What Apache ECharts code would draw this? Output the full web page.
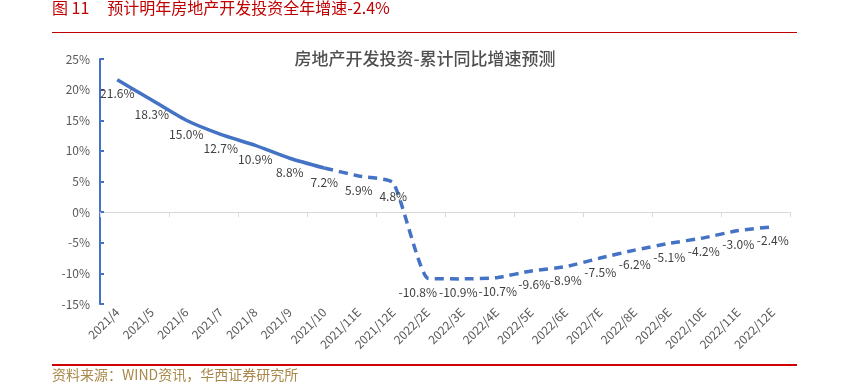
<!DOCTYPE html>
<html><head><meta charset="utf-8">
<script src="https://cdn.jsdelivr.net/npm/echarts@6/dist/echarts.min.js"></script>
<style>html,body{margin:0;padding:0;background:#fff}#c{width:850px;height:386px}</style>
</head><body><div id="c"></div>
<script>
const categories = ['2021/4','2021/5','2021/6','2021/7','2021/8','2021/9','2021/10','2021/11E','2021/12E',
  '2022/2E','2022/3E','2022/4E','2022/5E','2022/6E','2022/7E','2022/8E','2022/9E','2022/10E','2022/11E','2022/12E'];
const values = [21.6,18.3,15.0,12.7,10.9,8.8,7.2,5.9,4.8,-10.8,-10.9,-10.7,-9.6,-8.9,-7.5,-6.2,-5.1,-4.2,-3.0,-2.4];
const solidCount = 7; // actual data through 2021/10
const yTicks = {min:-15, max:25, interval:5};

const solid = values.map((v,i)=> i < solidCount ? v : null);
const dashed = values.map((v,i)=> i >= solidCount-1 ? v : null);
const labelShift = {9:-10, 10:-4, 11:1, 12:3};
const blue = '#4472C4';
const chart = echarts.init(document.getElementById('c'), null, {renderer:'canvas'});
const font = '"Noto Sans CJK SC", "Noto Sans", sans-serif';
chart.setOption({
  animation:false,
  textStyle:{fontFamily:font},
  title:{text:'房地产开发投资-累计同比增速预测', left:'center', top:45,
    textStyle:{fontSize:17, fontWeight:500, color:'#505050', fontFamily:font}},
  grid:{left:100, right:60, top:59, bottom:82, containLabel:false},
  xAxis:[{type:'category', data:categories, position:'bottom', boundaryGap:true,
      axisLine:{show:false, onZero:false}, axisTick:{show:false},
      axisLabel:{rotate:45, fontSize:12, color:'#595959', margin:6, interval:0}},
    {type:'category', data:categories, position:'top', boundaryGap:true,
      axisLine:{show:true, onZero:true, lineStyle:{color:'#D9D9D9', width:1}},
      axisTick:{show:true, inside:true, length:5, lineStyle:{color:'#D9D9D9'}},
      axisLabel:{show:false}}],
  yAxis:{type:'value', min:yTicks.min, max:yTicks.max, interval:yTicks.interval,
    axisLine:{show:true, lineStyle:{color:blue, width:2}},
    axisTick:{show:true, inside:true, length:4, lineStyle:{color:blue, width:2}},
    splitLine:{show:false},
    axisLabel:{formatter:'{value}%', fontSize:12, color:'#595959', margin:10}},
  series:[
    {type:'line', data:solid, smooth:0.25, symbol:'none', lineStyle:{color:blue, width:3.5}, z:3},
    {type:'line', data:dashed, smooth:0.15, symbol:'none', lineStyle:{color:blue, width:3.5, type:[9,6]}, z:3},
    {type:'line', data:values, symbol:'circle', symbolSize:2, showSymbol:true,
      itemStyle:{color:'rgba(0,0,0,0)'}, lineStyle:{width:0, color:'rgba(0,0,0,0)'}, z:4,
      labelLayout:p=>({hideOverlap:false, dx: labelShift[p.dataIndex] || 0}),
      label:{show:true, position:'bottom', distance:7, fontSize:12, color:'#404040',
        formatter:p=>p.value.toFixed(1)+'%'}}
  ],
  graphic:[
    {type:'text', left:52, top:0, style:{text:'图 11     预计明年房地产开发投资全年增速-2.4%', fill:'#C00000', font:'16px '+font}},
    {type:'rect', shape:{x:52, y:32, width:745, height:1}, style:{fill:'#C00000'}},
    {type:'rect', shape:{x:52, y:364, width:745, height:2}, style:{fill:'#D00000'}},
    {type:'text', left:52, top:368, style:{text:'资料来源：WIND资讯，华西证券研究所', fill:'#A8884A', font:'14px '+font}}
  ]
});
</script></body></html>
